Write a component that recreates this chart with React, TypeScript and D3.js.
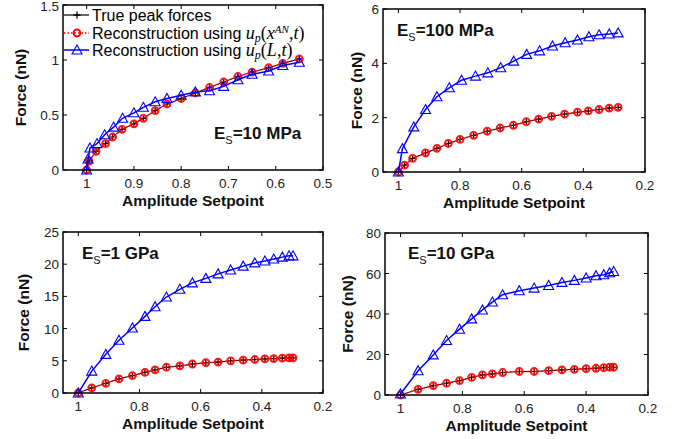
import React from "react";
import * as d3 from "d3";

// ---------- DATA ----------
// Panel A: Es = 10 MPa
const aTrueX = [1.0, 0.995, 0.98, 0.96, 0.945, 0.925, 0.9, 0.88, 0.855, 0.83, 0.8, 0.77, 0.74, 0.71, 0.68, 0.65, 0.615, 0.585, 0.55];
const aTrueY = [0, 0.08, 0.17, 0.24, 0.3, 0.37, 0.42, 0.47, 0.54, 0.6, 0.65, 0.7, 0.75, 0.8, 0.85, 0.89, 0.93, 0.97, 1.01];
const aRedY = [0, 0.08, 0.17, 0.24, 0.3, 0.37, 0.42, 0.47, 0.54, 0.6, 0.65, 0.7, 0.75, 0.8, 0.85, 0.89, 0.93, 0.97, 1.01];
const aBlueX = [1.0, 0.997, 0.993, 0.978, 0.962, 0.943, 0.924, 0.9, 0.88, 0.855, 0.83, 0.8, 0.77, 0.74, 0.71, 0.68, 0.65, 0.615, 0.585, 0.55];
const aBlueY = [0, 0.1, 0.2, 0.24, 0.32, 0.39, 0.47, 0.52, 0.57, 0.62, 0.65, 0.68, 0.71, 0.72, 0.76, 0.82, 0.87, 0.9, 0.95, 0.98];

// Panel B: Es = 100 MPa
const bTrueX = [1.0, 0.98, 0.954, 0.912, 0.875, 0.838, 0.8, 0.756, 0.712, 0.67, 0.627, 0.585, 0.545, 0.503, 0.461, 0.419, 0.384, 0.349, 0.316, 0.287];
const bTrueY = [0, 0.25, 0.5, 0.7, 0.87, 1.05, 1.2, 1.35, 1.5, 1.62, 1.72, 1.85, 1.95, 2.05, 2.13, 2.2, 2.25, 2.3, 2.35, 2.38];
const bRedY = [0, 0.25, 0.5, 0.7, 0.87, 1.05, 1.2, 1.35, 1.5, 1.62, 1.72, 1.85, 1.95, 2.05, 2.13, 2.2, 2.25, 2.3, 2.35, 2.38];
const bBlueX = [1.0, 0.987, 0.95, 0.912, 0.875, 0.835, 0.795, 0.75, 0.71, 0.668, 0.626, 0.584, 0.542, 0.5, 0.459, 0.419, 0.382, 0.349, 0.316, 0.287];
const bBlueY = [0, 0.86, 1.66, 2.3, 2.77, 3.1, 3.38, 3.53, 3.65, 3.84, 4.08, 4.33, 4.46, 4.64, 4.76, 4.86, 4.98, 5.05, 5.08, 5.12];

// Panel C: Es = 1 GPa
const cTrueX = [1.0, 0.956, 0.91, 0.867, 0.823, 0.782, 0.749, 0.712, 0.668, 0.627, 0.583, 0.543, 0.502, 0.461, 0.423, 0.39, 0.361, 0.333, 0.311, 0.298];
const cTrueY = [0, 0.8, 1.5, 2.2, 2.7, 3.2, 3.6, 4.0, 4.2, 4.5, 4.7, 4.8, 5.0, 5.1, 5.2, 5.3, 5.35, 5.4, 5.45, 5.45];
const cRedY = [0, 0.8, 1.5, 2.2, 2.7, 3.2, 3.6, 4.0, 4.2, 4.5, 4.7, 4.8, 5.0, 5.1, 5.2, 5.3, 5.35, 5.4, 5.45, 5.45];
const cBlueX = [1.0, 0.956, 0.91, 0.867, 0.823, 0.782, 0.749, 0.712, 0.668, 0.627, 0.583, 0.543, 0.502, 0.461, 0.423, 0.39, 0.361, 0.333, 0.311, 0.298];
const cBlueY = [0, 3.4, 6.0, 8.2, 10.1, 11.9, 13.4, 14.9, 16.1, 17.1, 17.8, 18.5, 19.1, 19.7, 20.2, 20.5, 20.8, 21.1, 21.3, 21.3];

// Panel D: Es = 10 GPa
const dTrueX = [1.0, 0.943, 0.894, 0.851, 0.809, 0.77, 0.735, 0.703, 0.67, 0.616, 0.568, 0.521, 0.478, 0.438, 0.4, 0.368, 0.343, 0.324, 0.311];
const dTrueY = [0, 2.8, 4.6, 5.8, 7.1, 8.7, 9.9, 10.4, 11.1, 11.6, 11.6, 12.0, 12.4, 12.7, 13.0, 13.2, 13.5, 13.7, 13.7];
const dRedY = [0, 2.8, 4.6, 5.8, 7.1, 8.7, 9.9, 10.4, 11.1, 11.6, 11.6, 12.0, 12.4, 12.7, 13.0, 13.2, 13.5, 13.7, 13.7];
const dBlueX = [1.0, 0.943, 0.894, 0.851, 0.809, 0.77, 0.735, 0.703, 0.67, 0.616, 0.568, 0.521, 0.478, 0.438, 0.4, 0.368, 0.343, 0.324, 0.311];
const dBlueY = [0.5, 12, 19.8, 26.9, 32.5, 37.6, 42, 45.9, 49.5, 51.5, 52.8, 54.1, 55.6, 56.6, 57.8, 58.9, 59.4, 60.4, 61.0];

// Ticks
const xTicksA = [1, 0.9, 0.8, 0.7, 0.6, 0.5];
const xTicksB = [1, 0.8, 0.6, 0.4, 0.2];
const yTicksA = [0, 0.5, 1, 1.5];
const yTicksB = [0, 2, 4, 6];
const yTicksC = [0, 5, 10, 15, 20, 25];
const yTicksD = [0, 20, 40, 60, 80];

const legendLabels = ["True peak forces", "Reconstruction using ", "Reconstruction using "];
const xLabel = "Amplitude Setpoint";
const yLabel = "Force (nN)";

const SANS = "'Liberation Sans', Arial, sans-serif";
const SERIF = "'Liberation Serif', 'Times New Roman', serif";

type PanelProps = {
  box: [number, number, number, number];
  xDomain: [number, number];
  yDomain: [number, number];
  xTicks: number[];
  yTicks: number[];
  trueX: number[];
  trueY: number[];
  redY: number[];
  blueX: number[];
  blueY: number[];
  es: string;
  esPos: [number, number];
  yLabelX: number;
  legend?: boolean;
};

function fmt(v: number) {
  return String(v);
}

function Panel(p: PanelProps) {
  const [l, t, r, b] = p.box;
  const x = d3.scaleLinear().domain(p.xDomain).range([l, r]);
  const y = d3.scaleLinear().domain(p.yDomain).range([b, t]);
  const line = d3.line<[number, number]>().x((d) => x(d[0])).y((d) => y(d[1]));
  const trueData: [number, number][] = p.trueX.map((v, i) => [v, p.trueY[i]]);
  const redData: [number, number][] = p.trueX.map((v, i) => [v, p.redY[i]]);
  const blueData: [number, number][] = p.blueX.map((v, i) => [v, p.blueY[i]]);
  const tl = 4;
  const tri = (cx: number, cy: number, s = 5) =>
    `M${cx},${cy - s}L${cx + s},${cy + s * 0.8}L${cx - s},${cy + s * 0.8}Z`;
  return (
    <g>
      {p.xTicks.map((v) => (
        <g key={"xt" + v}>
          <line x1={x(v)} x2={x(v)} y1={b} y2={b - tl} stroke="#000" strokeWidth={1} />
          <line x1={x(v)} x2={x(v)} y1={t} y2={t + tl} stroke="#000" strokeWidth={1} />
          <text x={x(v)} y={b + 18} textAnchor="middle" fontFamily={SANS} fontSize={13.5} fill="#222">
            {fmt(v)}
          </text>
        </g>
      ))}
      {p.yTicks.map((v) => (
        <g key={"yt" + v}>
          <line x1={l} x2={l + tl} y1={y(v)} y2={y(v)} stroke="#000" strokeWidth={1} />
          <line x1={r} x2={r - tl} y1={y(v)} y2={y(v)} stroke="#000" strokeWidth={1} />
          <text x={l - 4} y={Math.max(y(v) + 5, 11)} textAnchor="end" fontFamily={SANS} fontSize={13.5} fill="#222">
            {fmt(v)}
          </text>
        </g>
      ))}
      <path d={line(trueData) || ""} fill="none" stroke="#000" strokeWidth={1} />
      {trueData.map((d, i) => (
        <path
          key={"tp" + i}
          d={`M${x(d[0]) - 3},${y(d[1])}h6M${x(d[0])},${y(d[1]) - 3}v6`}
          stroke="#000"
          strokeWidth={1.2}
        />
      ))}
      <path d={line(redData) || ""} fill="none" stroke="#f00" strokeWidth={1.5} strokeDasharray="1.5,2" />
      {redData.map((d, i) => (
        <circle key={"rc" + i} cx={x(d[0])} cy={y(d[1])} r={3.4} fill="none" stroke="#f00" strokeWidth={2} opacity={0.9} />
      ))}
      <path d={line(blueData) || ""} fill="none" stroke="#0000ff" strokeWidth={1.5} />
      {blueData.map((d, i) => (
        <path key={"bt" + i} d={tri(x(d[0]), y(d[1]))} fill="none" stroke="#0000ff" strokeWidth={1.1} />
      ))}
      <rect x={l} y={t} width={r - l} height={b - t} fill="none" stroke="#000" strokeWidth={1.5} />
      <text x={(l + r) / 2} y={b + 36} textAnchor="middle" fontFamily={SANS} fontWeight="bold" fontSize={15.5} fill="#111">
        {xLabel}
      </text>
      <text
        transform={`translate(${p.yLabelX},${(t + b) / 2}) rotate(-90)`}
        textAnchor="middle"
        dy="0.35em"
        fontFamily={SANS}
        fontWeight="bold"
        fontSize={15.5}
        fill="#111"
      >
        {yLabel}
      </text>
      <text x={p.esPos[0]} y={p.esPos[1]} fontFamily={SANS} fontWeight="bold" fontSize={17} fill="#111">
        <tspan>E</tspan>
        <tspan fontSize={11} fontWeight="normal" dy={5}>S</tspan>
        <tspan dy={-5}>{p.es}</tspan>
      </text>
      {p.legend && <Legend x0={l} />}
    </g>
  );
}

function Legend({ x0 }: { x0: number }) {
  const rows = [15, 33, 50];
  const lx1 = x0 + 1;
  const lx2 = x0 + 26;
  const mx = x0 + 14;
  const tx = x0 + 29;
  return (
    <g>
      <line x1={lx1} x2={lx2} y1={rows[0]} y2={rows[0]} stroke="#000" strokeWidth={1.2} />
      <path d={`M${mx - 3.5},${rows[0]}h7M${mx},${rows[0] - 3.5}v7`} stroke="#000" strokeWidth={1.3} />
      <text x={tx} y={rows[0] + 6} fontFamily={SANS} fontSize={16} fill="#000">{legendLabels[0]}</text>

      <line x1={lx1} x2={lx2} y1={rows[1]} y2={rows[1]} stroke="#f00" strokeWidth={1.5} strokeDasharray="1.5,2" />
      <circle cx={mx} cy={rows[1]} r={3.4} fill="none" stroke="#f00" strokeWidth={2} />
      <text x={tx} y={rows[1] + 6} fontFamily={SANS} fontSize={16} fill="#000">
        {legendLabels[1]}
        <tspan fontFamily={SERIF} fontStyle="italic" fontSize={18}>u</tspan>
        <tspan fontFamily={SERIF} fontStyle="italic" fontSize={12} dy={3}>p</tspan>
        <tspan fontFamily={SERIF} fontSize={18} dy={-3}>(</tspan>
        <tspan fontFamily={SERIF} fontStyle="italic" fontSize={18}>x</tspan>
        <tspan fontFamily={SERIF} fontStyle="italic" fontSize={11} dy={-6}>AN</tspan>
        <tspan fontFamily={SERIF} fontSize={18} dy={6}>,</tspan>
        <tspan fontFamily={SERIF} fontStyle="italic" fontSize={18}>t</tspan>
        <tspan fontFamily={SERIF} fontSize={18}>)</tspan>
      </text>

      <line x1={lx1} x2={lx2} y1={rows[2]} y2={rows[2]} stroke="#0000ff" strokeWidth={1.5} />
      <path d={`M${mx},${rows[2] - 5}L${mx + 5},${rows[2] + 4}L${mx - 5},${rows[2] + 4}Z`} fill="none" stroke="#0000ff" strokeWidth={1.1} />
      <text x={tx} y={rows[2] + 6} fontFamily={SANS} fontSize={16} fill="#000">
        {legendLabels[2]}
        <tspan fontFamily={SERIF} fontStyle="italic" fontSize={18}>u</tspan>
        <tspan fontFamily={SERIF} fontStyle="italic" fontSize={12} dy={3}>p</tspan>
        <tspan fontFamily={SERIF} fontSize={18} dy={-3}>(</tspan>
        <tspan fontFamily={SERIF} fontStyle="italic" fontSize={18}>L</tspan>
        <tspan fontFamily={SERIF} fontSize={18}>,</tspan>
        <tspan fontFamily={SERIF} fontStyle="italic" fontSize={18}>t</tspan>
        <tspan fontFamily={SERIF} fontSize={18}>)</tspan>
      </text>
    </g>
  );
}

export default function App() {
  return (
    <svg
      width={684}
      height={439}
      viewBox="0 0 684 439"
      style={{ position: "absolute", left: 0, top: 0, background: "#fff" }}
    >
      <rect x={0} y={0} width={684} height={439} fill="#fff" />
      <Panel
        box={[63, 5, 323, 170]}
        xDomain={[1.05, 0.5]}
        yDomain={[0, 1.5]}
        xTicks={xTicksA}
        yTicks={yTicksA}
        trueX={aTrueX}
        trueY={aTrueY}
        redY={aRedY}
        blueX={aBlueX}
        blueY={aBlueY}
        es="=10 MPa"
        esPos={[214, 139]}
        yLabelX={21}
        legend
      />
      <Panel
        box={[383, 9, 645, 172]}
        xDomain={[1.05, 0.2]}
        yDomain={[0, 6]}
        xTicks={xTicksB}
        yTicks={yTicksB}
        trueX={bTrueX}
        trueY={bTrueY}
        redY={bRedY}
        blueX={bBlueX}
        blueY={bBlueY}
        es="=100 MPa"
        esPos={[397, 36]}
        yLabelX={357}
      />
      <Panel
        box={[63, 232, 323, 393]}
        xDomain={[1.05, 0.2]}
        yDomain={[0, 25]}
        xTicks={xTicksB}
        yTicks={yTicksC}
        trueX={cTrueX}
        trueY={cTrueY}
        redY={cRedY}
        blueX={cBlueX}
        blueY={cBlueY}
        es="=1 GPa"
        esPos={[82, 259]}
        yLabelX={24}
      />
      <Panel
        box={[385, 233, 648, 395]}
        xDomain={[1.05, 0.2]}
        yDomain={[0, 80]}
        xTicks={xTicksB}
        yTicks={yTicksD}
        trueX={dTrueX}
        trueY={dTrueY}
        redY={dRedY}
        blueX={dBlueX}
        blueY={dBlueY}
        es="=10 GPa"
        esPos={[408, 259]}
        yLabelX={348}
      />
    </svg>
  );
}
